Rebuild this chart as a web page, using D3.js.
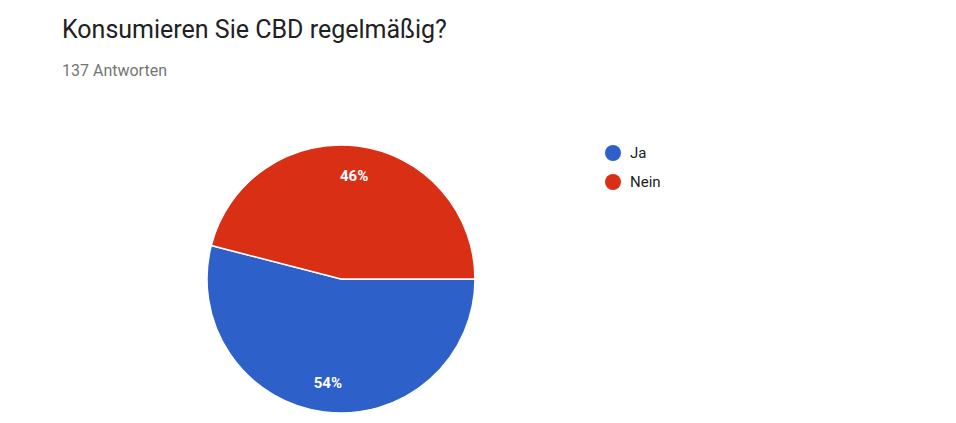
<!DOCTYPE html>
<meta charset="utf-8">
<style>
  body { margin: 0; background: white; font-family: Roboto, Arial, sans-serif; }
  .title { font-size: 25px; fill: #202124; }
  .sub { font-size: 16px; fill: #757575; }
  .legend text { font-size: 15px; fill: #222; }
  .pct { font-size: 15px; fill: white; font-weight: bold; }
</style>
<body>
<script src="https://d3js.org/d3.v7.min.js"></script>
<script>
  // chart data
  var categories = ["Ja", "Nein"];
  var counts = [74, 63];
  var colors = ["#2d60c8", "#d93015"];
  var total = 137;

  var width = 956, height = 423;
  var cx = 341, cy = 279, radius = 134;

  var svg = d3.select("body").append("svg")
    .attr("width", width)
    .attr("height", height);

  svg.append("text").attr("class", "title")
    .attr("x", 62).attr("y", 38)
    .text("Konsumieren Sie CBD regelmäßig?");
  svg.append("text").attr("class", "sub")
    .attr("x", 62).attr("y", 76)
    .text(total + " Antworten");

  var data = categories.map(function (c, i) { return { name: c, value: counts[i], color: colors[i] }; });

  // starts at 3 o'clock, clockwise
  var pie = d3.pie().sort(null).value(function (d) { return d.value; })
    .startAngle(Math.PI / 2).endAngle(Math.PI / 2 + 2 * Math.PI);
  var arc = d3.arc().innerRadius(0).outerRadius(radius);
  var labelArc = d3.arc().innerRadius(radius * 0.78).outerRadius(radius * 0.78);

  var g = svg.append("g").attr("transform", "translate(" + cx + "," + cy + ")");
  var arcs = pie(data);

  g.selectAll("path").data(arcs).enter().append("path")
    .attr("d", arc)
    .attr("fill", function (d) { return d.data.color; })
    .attr("stroke", "white")
    .attr("stroke-width", 1.5);

  var sum = d3.sum(counts);
  g.selectAll("text").data(arcs).enter().append("text")
    .attr("class", "pct")
    .attr("text-anchor", "middle")
    .attr("dy", "0.35em")
    .attr("transform", function (d) { return "translate(" + labelArc.centroid(d) + ")"; })
    .text(function (d) { return Math.round(d.data.value / sum * 100) + "%"; });

  // legend
  var legend = svg.append("g").attr("class", "legend")
    .attr("transform", "translate(613,153)");
  var item = legend.selectAll("g").data(data).enter().append("g")
    .attr("transform", function (d, i) { return "translate(0," + i * 29 + ")"; });
  item.append("circle").attr("r", 8).attr("fill", function (d) { return d.color; });
  item.append("text").attr("x", 17).attr("dy", "0.35em").text(function (d) { return d.name; });
</script>
</body>
